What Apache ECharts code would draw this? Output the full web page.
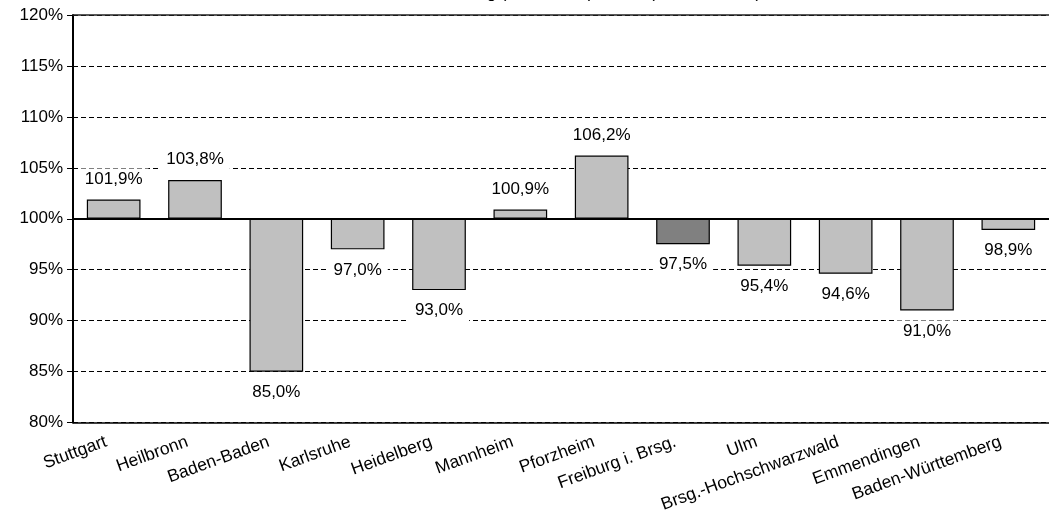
<!DOCTYPE html>
<html>
<head>
<meta charset="utf-8">
<script src="https://cdn.jsdelivr.net/npm/echarts@6/dist/echarts.min.js"></script>
<style>html,body{margin:0;padding:0;background:#fff}#c{width:1049px;height:515px}</style>
</head>
<body>
<div id="c"></div>
<script>
const categories = ['Stuttgart','Heilbronn','Baden-Baden','Karlsruhe','Heidelberg','Mannheim','Pforzheim','Freiburg i. Brsg.','Ulm','Brsg.-Hochschwarzwald','Emmendingen','Baden-Württemberg'];
const values = [101.9, 103.8, 85.0, 97.0, 93.0, 100.9, 106.2, 97.5, 95.4, 94.6, 91.0, 98.9];
const highlight = 'Freiburg i. Brsg.';
const baseline = 100;
const yTicks = [80, 85, 90, 95, 100, 105, 110, 115, 120];

const fmt = v => v.toFixed(1).replace('.', ',') + '%';
const chart = echarts.init(document.getElementById('c'));
const font = 'Liberation Sans, Arial, sans-serif';
chart.setOption({
  animation: false,
  title: {
    text: 'Veränderung (2000-2010), Index (2000 = 100%)',
    left: 575, textAlign: 'center', top: -20,
    textStyle: { fontFamily: font, fontSize: 17, fontWeight: 'normal', color: '#000' }
  },
  grid: { left: 73, right: -11, top: 15, bottom: 92, containLabel: false },
  xAxis: {
    type: 'category', data: categories,
    axisLine: { onZero: false, lineStyle: { color: '#000', width: 1.5 } },
    axisTick: { show: false },
    axisLabel: { rotate: 20, interval: 0, fontFamily: font, fontSize: 17.5, color: '#000', margin: 16, padding: [0, 8, 0, 0] }
  },
  yAxis: {
    type: 'value', min: yTicks[0] - baseline, max: yTicks[yTicks.length - 1] - baseline, interval: 5,
    axisLine: { show: true, lineStyle: { color: '#000', width: 2 } },
    axisTick: { show: true, length: 6, lineStyle: { color: '#000' } },
    axisLabel: { fontFamily: font, fontSize: 17, color: '#000', margin: 10, formatter: v => (v + baseline) + '%' },
    splitLine: { show: true, lineStyle: { color: '#000', type: [5, 3], width: 1 } }
  },
  series: [{
    type: 'bar',
    barWidth: '66%',
    data: values.map((v, i) => ({
      value: +(v - baseline).toFixed(2),
      itemStyle: { color: categories[i] === highlight ? '#808080' : '#c0c0c0', borderColor: '#000', borderWidth: 1.2 },
      label: { position: v >= baseline ? 'top' : 'bottom' }
    })),
    label: {
      show: true, distance: 10, fontFamily: font, fontSize: 17, color: '#000',
      backgroundColor: '#fff', padding: [2, 6],
      formatter: p => fmt(values[p.dataIndex])
    },
    markLine: {
      silent: true, symbol: 'none', label: { show: false },
      lineStyle: { color: '#000', type: 'solid', width: 2 },
      data: [{ yAxis: 0 }, { yAxis: 20, lineStyle: { width: 1.5, color: '#222' } }]
    }
  }]
});
</script>
</body>
</html>
